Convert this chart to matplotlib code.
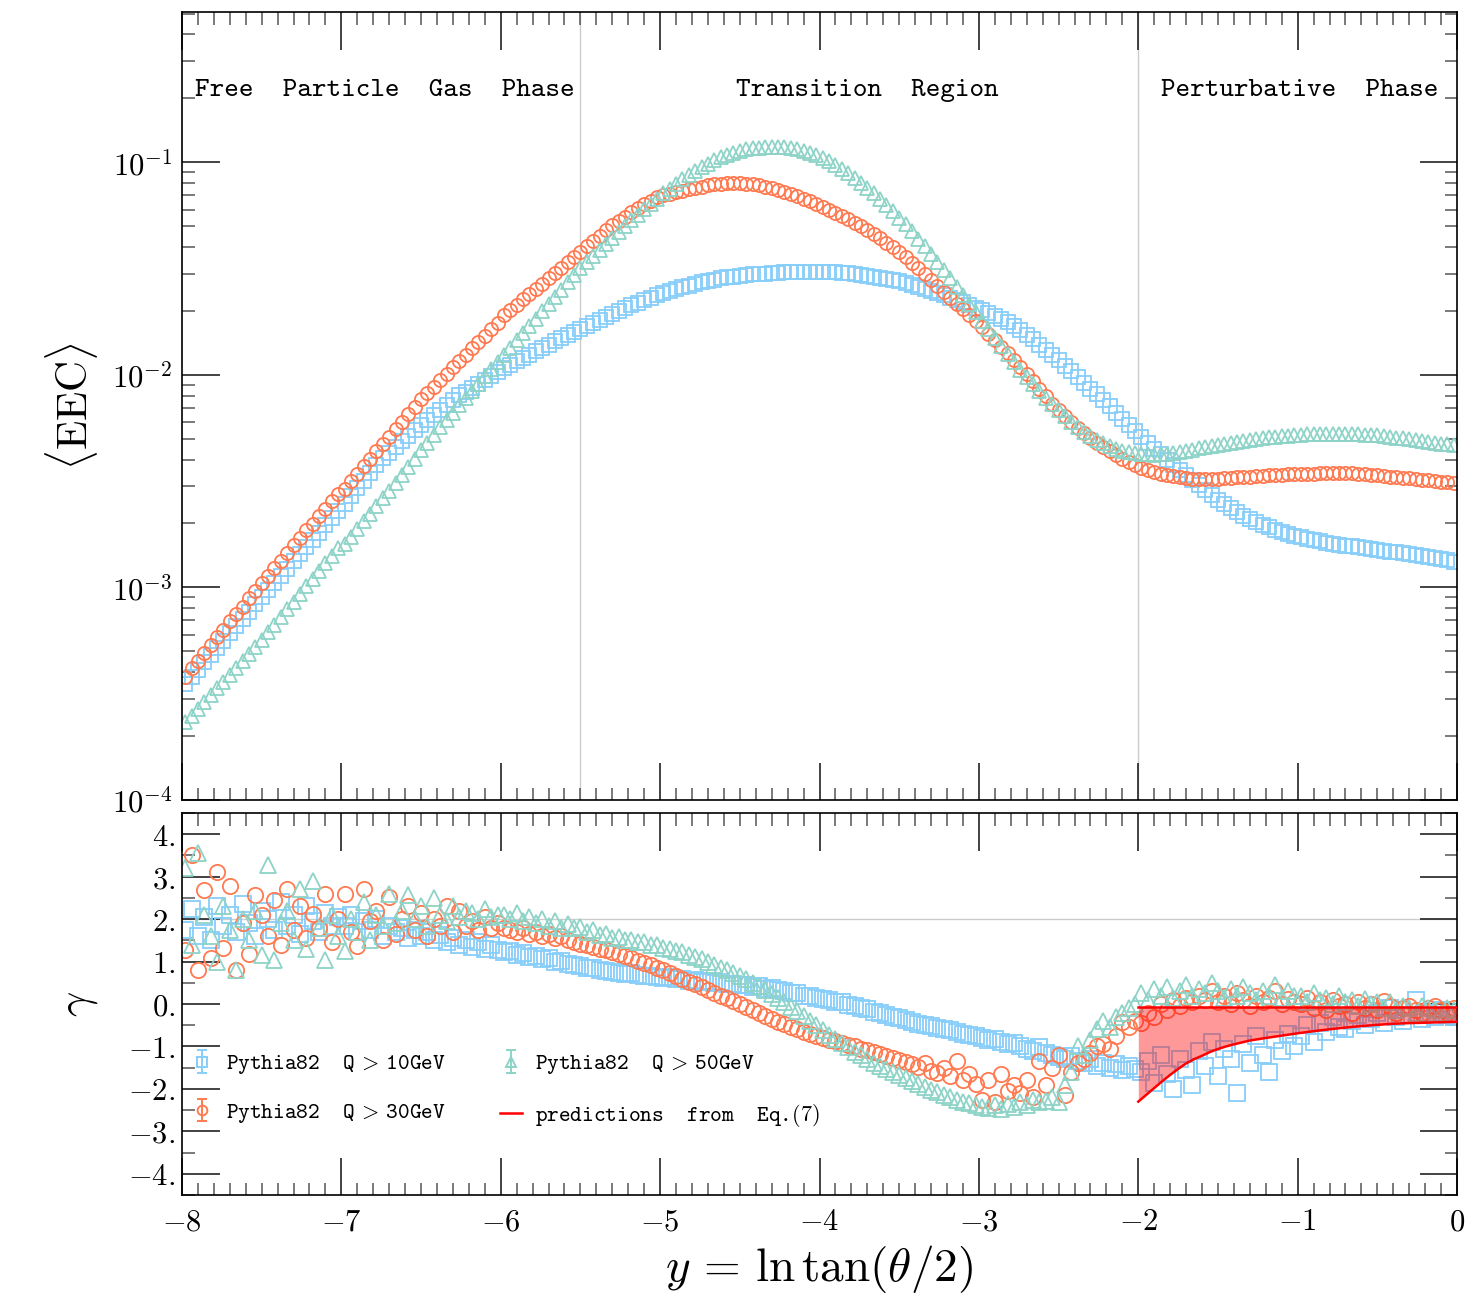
import numpy as np
import matplotlib
matplotlib.use("Agg")
from matplotlib import pyplot as plt
from matplotlib.ticker import MultipleLocator, LogLocator, FuncFormatter, NullFormatter

plt.rcParams['mathtext.fontset'] = 'cm'

# 200 bins in y = ln tan(theta/2), from -8 to 0
y_lo, y_hi, n_bins = -8.0, 0.0, 200
bin_edges = np.linspace(y_lo, y_hi, n_bins + 1)
y_centers = 0.5 * (bin_edges[:-1] + bin_edges[1:])

# log10 <EEC>, one row per unit of y
log_eec_q10 = [
    -3.455, -3.42, -3.386, -3.352, -3.318, -3.284, -3.25, -3.216, -3.182, -3.148, -3.114, -3.08, -3.047,
    -3.013, -2.979, -2.945, -2.911, -2.877, -2.843, -2.809, -2.776, -2.742, -2.708, -2.674, -2.64,
    -2.605, -2.569, -2.533, -2.497, -2.461, -2.425, -2.393, -2.366, -2.34, -2.313, -2.287, -2.26, -2.235,
    -2.211, -2.188, -2.165, -2.141, -2.118, -2.096, -2.078, -2.06, -2.042, -2.024, -2.006, -1.988,
    -1.968, -1.952, -1.936, -1.92, -1.904, -1.888, -1.872, -1.857, -1.842, -1.827, -1.812, -1.797, -1.782,
    -1.768, -1.754, -1.74, -1.726, -1.712, -1.699, -1.686, -1.673, -1.66, -1.648, -1.636, -1.625,
    -1.614, -1.605, -1.596, -1.588, -1.58, -1.572, -1.565, -1.558, -1.552, -1.546, -1.541, -1.537, -1.533,
    -1.53, -1.527, -1.525, -1.523, -1.521, -1.519, -1.518, -1.517, -1.516, -1.515, -1.515, -1.515,
    -1.515, -1.516, -1.517, -1.519, -1.522, -1.525, -1.529, -1.533, -1.537, -1.542, -1.547, -1.553, -1.56,
    -1.567, -1.575, -1.584, -1.594, -1.604, -1.614, -1.625, -1.636, -1.647, -1.659, -1.671, -1.683,
    -1.695, -1.708, -1.722, -1.737, -1.753, -1.77, -1.789, -1.81, -1.833, -1.857, -1.882, -1.907, -1.932,
    -1.957, -1.983, -2.01, -2.037, -2.064, -2.092, -2.12, -2.148, -2.177, -2.206, -2.235, -2.264,
    -2.292, -2.32, -2.347, -2.373, -2.398, -2.422, -2.446, -2.47, -2.494, -2.518, -2.542, -2.566, -2.588,
    -2.609, -2.628, -2.646, -2.663, -2.678, -2.692, -2.705, -2.717, -2.728, -2.738, -2.748, -2.757,
    -2.764, -2.771, -2.777, -2.783, -2.789, -2.794, -2.799, -2.803, -2.807, -2.811, -2.815, -2.819, -2.823,
    -2.827, -2.831, -2.835, -2.839, -2.843, -2.848, -2.853, -2.858, -2.863, -2.868, -2.873, -2.878]

log_eec_q30 = [
    -3.42, -3.38, -3.345, -3.31, -3.27, -3.235, -3.20, -3.16, -3.125, -3.09, -3.05, -3.015, -2.98,
    -2.945, -2.91, -2.875, -2.84, -2.80, -2.765, -2.73, -2.70, -2.665, -2.63, -2.595, -2.56,
    -2.535, -2.50, -2.465, -2.43, -2.395, -2.36, -2.325, -2.29, -2.255, -2.22, -2.185, -2.15, -2.115,
    -2.085, -2.055, -2.025, -1.995, -1.965, -1.935, -1.905, -1.875, -1.845, -1.815, -1.785, -1.755,
    -1.72, -1.695, -1.67, -1.645, -1.62, -1.595, -1.57, -1.545, -1.52, -1.495, -1.47, -1.445, -1.42,
    -1.395, -1.37, -1.345, -1.32, -1.295, -1.275, -1.255, -1.235, -1.215, -1.197, -1.18, -1.165,
    -1.155, -1.147, -1.14, -1.133, -1.126, -1.12, -1.114, -1.108, -1.104, -1.10, -1.098, -1.097, -1.098,
    -1.10, -1.104, -1.108, -1.114, -1.12, -1.128, -1.137, -1.147, -1.158, -1.17, -1.182, -1.195,
    -1.208, -1.222, -1.236, -1.251, -1.267, -1.283, -1.30, -1.318, -1.337, -1.357, -1.378, -1.40, -1.423,
    -1.447, -1.472, -1.498, -1.525, -1.552, -1.58, -1.608, -1.636, -1.664, -1.692, -1.72, -1.748,
    -1.776, -1.806, -1.836, -1.867, -1.898, -1.93, -1.962, -1.994, -2.03, -2.065, -2.10, -2.135, -2.165,
    -2.195, -2.222, -2.248, -2.272, -2.295, -2.318, -2.34, -2.36, -2.378, -2.394, -2.41, -2.425,
    -2.437, -2.447, -2.456, -2.464, -2.47, -2.476, -2.481, -2.485, -2.488, -2.49, -2.49, -2.49, -2.488,
    -2.486, -2.484, -2.482, -2.48, -2.478, -2.476, -2.474, -2.472, -2.47, -2.469, -2.468, -2.467,
    -2.466, -2.465, -2.464, -2.463, -2.462, -2.461, -2.461, -2.461, -2.462, -2.464, -2.466, -2.469, -2.472,
    -2.475, -2.478, -2.481, -2.484, -2.487, -2.49, -2.493, -2.496, -2.499, -2.502, -2.505, -2.508]

log_eec_q50 = [
    -3.635, -3.603, -3.571, -3.539, -3.507, -3.475, -3.443, -3.41, -3.378, -3.345, -3.312, -3.279, -3.246,
    -3.211, -3.175, -3.139, -3.103, -3.067, -3.031, -2.995, -2.959, -2.923, -2.887, -2.851, -2.815,
    -2.797, -2.761, -2.725, -2.689, -2.653, -2.617, -2.581, -2.544, -2.507, -2.47, -2.433, -2.396, -2.355,
    -2.318, -2.282, -2.247, -2.212, -2.177, -2.143, -2.109, -2.075, -2.041, -2.007, -1.973, -1.939,
    -1.905, -1.871, -1.837, -1.803, -1.769, -1.735, -1.701, -1.667, -1.633, -1.599, -1.565, -1.531, -1.498,
    -1.469, -1.44, -1.411, -1.383, -1.355, -1.327, -1.30, -1.273, -1.246, -1.22, -1.195, -1.17,
    -1.146, -1.123, -1.101, -1.08, -1.06, -1.041, -1.023, -1.006, -0.99, -0.976, -0.964, -0.954, -0.946,
    -0.939, -0.934, -0.93, -0.928, -0.927, -0.927, -0.929, -0.933, -0.939, -0.946, -0.955, -0.966,
    -0.978, -0.993, -1.01, -1.029, -1.05, -1.072, -1.095, -1.12, -1.146, -1.173, -1.201, -1.23, -1.26,
    -1.292, -1.325, -1.359, -1.394, -1.43, -1.467, -1.505, -1.544, -1.584, -1.624, -1.664, -1.704,
    -1.744, -1.784, -1.824, -1.863, -1.902, -1.94, -1.977, -2.012, -2.045, -2.077, -2.108, -2.138, -2.167,
    -2.195, -2.221, -2.245, -2.267, -2.287, -2.305, -2.321, -2.335, -2.347, -2.357, -2.364, -2.369,
    -2.372, -2.374, -2.375, -2.374, -2.371, -2.367, -2.362, -2.357, -2.352, -2.346, -2.341, -2.335, -2.33,
    -2.324, -2.319, -2.314, -2.309, -2.305, -2.301, -2.297, -2.294, -2.291, -2.288, -2.286, -2.284,
    -2.282, -2.28, -2.279, -2.278, -2.277, -2.277, -2.277, -2.277, -2.278, -2.279, -2.281, -2.283, -2.285,
    -2.288, -2.291, -2.295, -2.299, -2.303, -2.307, -2.311, -2.315, -2.319, -2.323, -2.327, -2.331]

# gamma
gamma_q10 = [
    1.75, 2.25, 1.6, 2.05, 1.5, 2.3, 1.85, 2.1, 1.7, 2.35, 1.9, 1.6, 2.2,
    2.0, 1.75, 2.4, 1.85, 2.1, 1.65, 2.3, 1.95, 1.7, 2.15, 1.85, 2.05,
    1.85, 2.1, 1.7, 1.95, 1.75, 2.0, 1.6, 1.85, 1.7, 1.8, 1.55, 1.75, 1.6,
    1.7, 1.5, 1.62, 1.45, 1.55, 1.4, 1.5, 1.35, 1.45, 1.3, 1.38, 1.28,
    1.22, 1.25, 1.15, 1.2, 1.1, 1.12, 1.05, 1.08, 0.98, 1.02, 0.95, 0.92, 0.9,
    0.86, 0.84, 0.8, 0.78, 0.76, 0.74, 0.7, 0.72, 0.68, 0.66, 0.67, 0.63,
    0.62, 0.63, 0.58, 0.6, 0.55, 0.57, 0.52, 0.54, 0.5, 0.51, 0.47, 0.48, 0.44,
    0.45, 0.4, 0.42, 0.36, 0.37, 0.32, 0.3, 0.26, 0.25, 0.2, 0.18, 0.14,
    0.12, 0.1, 0.05, 0.04, -0.02, -0.04, -0.1, -0.12, -0.18, -0.2, -0.26, -0.3, -0.34,
    -0.38, -0.42, -0.46, -0.5, -0.52, -0.56, -0.6, -0.62, -0.66, -0.7, -0.72, -0.76,
    -0.8, -0.85, -0.82, -0.9, -0.95, -0.92, -1.0, -1.05, -1.1, -1.02, -1.15, -1.2, -1.25,
    -1.3, -1.22, -1.35, -1.4, -1.3, -1.45, -1.38, -1.5, -1.42, -1.55, -1.45, -1.52,
    -1.6, -1.35, -1.85, -1.2, -1.65, -2.0, -1.3, -1.55, -1.9, -1.1, -1.45, -0.9, -1.7,
    -1.05, -1.3, -2.1, -0.95, -1.4, -0.75, -1.2, -1.6, -0.85, -1.1, -0.7, -1.0,
    -0.75, -0.5, -0.9, -0.45, -0.65, -0.3, -0.55, -0.6, -0.4, -0.25, -0.5, -0.35, -0.2,
    -0.45, -0.1, -0.3, -0.4, -0.25, 0.1, -0.35, -0.2, -0.3, -0.15, -0.25, -0.3]

gamma_q30 = [
    1.27, 3.5, 0.8, 2.68, 1.08, 3.12, 1.31, 2.77, 0.8, 1.9, 1.19, 2.56, 2.1,
    1.6, 2.45, 1.39, 2.72, 1.75, 2.3, 1.55, 2.13, 1.8, 2.6, 1.45, 2.0,
    2.6, 1.7, 1.36, 2.72, 1.95, 2.2, 1.5, 2.53, 1.65, 2.0, 2.3, 1.75, 2.14,
    1.6, 2.0, 1.85, 2.3, 1.7, 2.2, 1.85, 1.95, 1.75, 2.05, 1.8, 1.9,
    1.8, 1.75, 1.7, 1.8, 1.65, 1.7, 1.6, 1.65, 1.55, 1.6, 1.5, 1.45, 1.42,
    1.38, 1.35, 1.3, 1.28, 1.22, 1.18, 1.12, 1.08, 1.02, 0.97, 0.92, 0.86,
    0.8, 0.74, 0.67, 0.6, 0.53, 0.46, 0.4, 0.34, 0.27, 0.2, 0.14, 0.08, 0.0,
    -0.07, -0.14, -0.21, -0.28, -0.35, -0.42, -0.48, -0.54, -0.6, -0.65, -0.7, -0.75,
    -0.8, -0.84, -0.88, -0.93, -0.97, -1.0, -1.05, -1.08, -1.12, -1.17, -1.22, -1.27, -1.32,
    -1.36, -1.42, -1.48, -1.4, -1.58, -1.62, -1.5, -1.7, -1.35, -1.78, -1.65, -1.88,
    -2.25, -1.8, -2.3, -1.65, -2.05, -1.9, -2.1, -1.8, -2.2, -1.35, -1.9, -1.5, -1.2,
    -2.14, -1.6, -1.4, -1.3, -1.15, -1.0, -0.95, -1.05, -0.75, -0.42, -0.55, -0.4,
    -0.45, -0.2, -0.3, 0.0, -0.15, 0.1, -0.05, 0.15, 0.05, 0.2, 0.1, 0.3, 0.05,
    0.2, 0.0, 0.25, 0.1, -0.05, 0.2, 0.05, 0.15, 0.3, 0.0, 0.12, 0.05,
    0.0, 0.15, -0.1, 0.05, -0.15, 0.1, -0.05, 0.0, -0.2, 0.05, -0.1, 0.0, -0.15,
    0.08, -0.05, -0.2, -0.1, -0.05, -0.15, -0.2, -0.1, -0.05, -0.15, -0.2, -0.1]

gamma_q50 = [
    3.2, 1.4, 3.55, 2.1, 1.6, 1.0, 2.3, 1.75, 0.8, 2.0, 1.5, 2.2, 1.15,
    3.27, 1.04, 1.9, 2.2, 1.5, 2.72, 1.3, 2.89, 1.8, 1.04, 2.1, 1.6,
    1.24, 2.0, 1.7, 2.4, 1.5, 2.1, 1.85, 2.6, 1.9, 2.2, 2.56, 2.0, 2.3,
    1.85, 2.49, 2.1, 1.95, 2.3, 2.05, 2.2, 2.15, 2.0, 2.25, 2.05, 2.1,
    2.1, 2.0, 2.15, 1.95, 2.05, 1.9, 2.0, 1.85, 1.95, 1.8, 1.88, 1.78, 1.82,
    1.7, 1.74, 1.62, 1.66, 1.55, 1.58, 1.5, 1.52, 1.45, 1.46, 1.4, 1.38,
    1.33, 1.3, 1.25, 1.22, 1.15, 1.1, 1.05, 0.98, 0.92, 0.86, 0.8, 0.74, 0.66,
    0.58, 0.5, 0.42, 0.33, 0.24, 0.14, 0.04, -0.06, -0.17, -0.28, -0.39, -0.5,
    -0.62, -0.72, -0.82, -0.92, -1.02, -1.12, -1.2, -1.3, -1.38, -1.45, -1.52, -1.6, -1.68,
    -1.74, -1.82, -1.88, -1.95, -2.02, -2.08, -2.14, -2.2, -2.25, -2.3, -2.34, -2.38,
    -2.42, -2.45, -2.38, -2.48, -2.35, -2.42, -2.3, -2.38, -2.25, -2.32, -2.28, -2.2, -2.3,
    -1.9, -1.6, -1.0, -1.2, -0.85, -0.6, -0.4, -0.55, -0.3, -0.2, -0.1, 0.0,
    0.25, 0.1, 0.35, 0.2, 0.4, 0.15, 0.3, 0.45, 0.2, 0.35, 0.25, 0.5, 0.3,
    0.15, 0.35, 0.2, 0.4, 0.25, 0.1, 0.3, 0.2, 0.45, 0.15, 0.3, 0.2,
    0.2, 0.05, 0.25, 0.1, 0.15, 0.0, 0.2, 0.05, 0.1, -0.05, 0.12, 0.0, 0.05,
    -0.1, 0.05, -0.15, -0.05, -0.1, -0.2, -0.05, -0.1, -0.15, -0.2, -0.1, -0.15]

# prediction band from Eq.(7), perturbative region only
pred_y = [-2.0, -1.95, -1.9, -1.85, -1.8, -1.75, -1.7, -1.65, -1.6, -1.55, -1.5, -1.45, -1.4,
          -1.3, -1.2, -1.1, -1.0, -0.9, -0.8, -0.7, -0.6, -0.5, -0.4, -0.3, -0.2, -0.1, 0.0]
pred_lower = [-2.30, -2.14, -1.98, -1.82, -1.67, -1.53, -1.40, -1.30, -1.22, -1.13, -1.06, -1.00, -0.95,
              -0.86, -0.80, -0.745, -0.69, -0.64, -0.595, -0.555, -0.52, -0.49, -0.465, -0.45,
              -0.44, -0.43, -0.42]
pred_upper = -0.07

series = [
    (r"Pythia82  Q$\,>\,$10GeV", log_eec_q10, gamma_q10, "s", "#87cefa"),
    (r"Pythia82  Q$\,>\,$30GeV", log_eec_q30, gamma_q30, "o", "#ff7a50"),
    (r"Pythia82  Q$\,>\,$50GeV", log_eec_q50, gamma_q50, "^", "#8dd3c7"),
]
regions = [(-7.92, "left", "Free  Particle  Gas  Phase"),
           (-3.70, "center", "Transition  Region"),
           (-0.99, "center", "Perturbative  Phase")]
region_borders = [-5.5, -2.0]

fig = plt.figure(figsize=(14.77, 13.04), dpi=100)
ax1 = fig.add_axes([0.1232, 0.3865, 0.8633, 0.6043])
ax2 = fig.add_axes([0.1232, 0.0836, 0.8633, 0.2929])

handles = []
for label, log_eec, gamma, mk, col in series:
    ax1.plot(y_centers, 10 ** np.array(log_eec), ls="none", marker=mk, ms=9.5,
             mfc="none", mec=col, mew=1.3, zorder=2)
    ax2.plot(y_centers, gamma, ls="none", marker=mk, ms=11,
             mfc="none", mec=col, mew=1.3, zorder=2)
    h = ax2.errorbar([np.nan], [np.nan], yerr=[1.0], fmt=mk, ms=7, mfc="none", mec=col,
                     mew=1.4, ecolor=col, elinewidth=1.4, capsize=3.5, label=label)
    handles.append(h)

ax2.fill_between(pred_y, pred_lower, pred_upper, color="red", alpha=0.4, lw=0, zorder=3)
ax2.plot(pred_y, [pred_upper] * len(pred_y), color="red", lw=1.8, zorder=4)
hp, = ax2.plot(pred_y, pred_lower, color="red", lw=1.8, zorder=4,
               label="predictions  from  Eq.$(7)$")
handles.append(hp)

for xb in region_borders:
    ax1.axvline(xb, color="#cccccc", lw=1.0, zorder=0)
ax2.axhline(2.0, color="#cccccc", lw=1.0, zorder=0)

for xr, ha, txt in regions:
    ax1.text(xr, 0.901, txt, transform=ax1.get_xaxis_transform(), ha=ha, va="center",
             fontsize=20, family="cmtt10")

ax1.set_yscale("log")
ax1.set_ylim(1e-4, 0.51)
ax2.set_ylim(-4.5, 4.5)
for ax in (ax1, ax2):
    ax.set_xlim(-8, 0)
    ax.xaxis.set_major_locator(MultipleLocator(1))
    ax.xaxis.set_minor_locator(MultipleLocator(0.1))
    ax.tick_params(which="both", direction="in", top=True, right=True, labelsize=22)
    ax.tick_params(which="major", length=27, width=1.2, color="#222222")
    ax.tick_params(which="minor", length=9, width=1.1, color="#555555")
    for sp in ax.spines.values():
        sp.set_linewidth(1.2)

ax1.yaxis.set_major_locator(LogLocator(base=10, numticks=10))
ax1.yaxis.set_minor_locator(LogLocator(base=10, subs=np.arange(2, 10), numticks=20))
ax1.yaxis.set_minor_formatter(NullFormatter())
ax1.yaxis.set_major_formatter(FuncFormatter(lambda v, p: r"$10^{%d}$" % round(np.log10(v))))
ax1.tick_params(axis="y", pad=7)
ax1.tick_params(labelbottom=False)

ax2.yaxis.set_major_locator(MultipleLocator(1))
ax2.yaxis.set_minor_locator(MultipleLocator(0.5))
ax2.yaxis.set_major_formatter(FuncFormatter(lambda v, p: r"$%d.$" % round(v)))
ax2.xaxis.set_major_formatter(FuncFormatter(lambda v, p: r"$%d$" % round(v)))
ax2.tick_params(axis="y", pad=5)
ax2.tick_params(axis="x", pad=9)

ax1.set_ylabel(r"$\langle\mathrm{EEC}\rangle$", fontsize=31)
ax1.yaxis.set_label_coords(-0.064, 0.5)
ax2.set_ylabel(r"$\gamma$", fontsize=32)
ax2.yaxis.set_label_coords(-0.064, 0.5)
ax2.set_xlabel(r"$y\,=\,\ln\tan(\theta/2)$", fontsize=34, labelpad=5)

ax2.legend(handles=handles, loc="center left", bbox_to_anchor=(0.0, 0.272), ncol=2,
           frameon=False, prop={"family": "cmtt10", "size": 16}, handlelength=1.0,
           handletextpad=0.6, columnspacing=2.4, labelspacing=1.15, borderaxespad=0,
           borderpad=0.4)

fig.savefig("out.png", dpi=100)
